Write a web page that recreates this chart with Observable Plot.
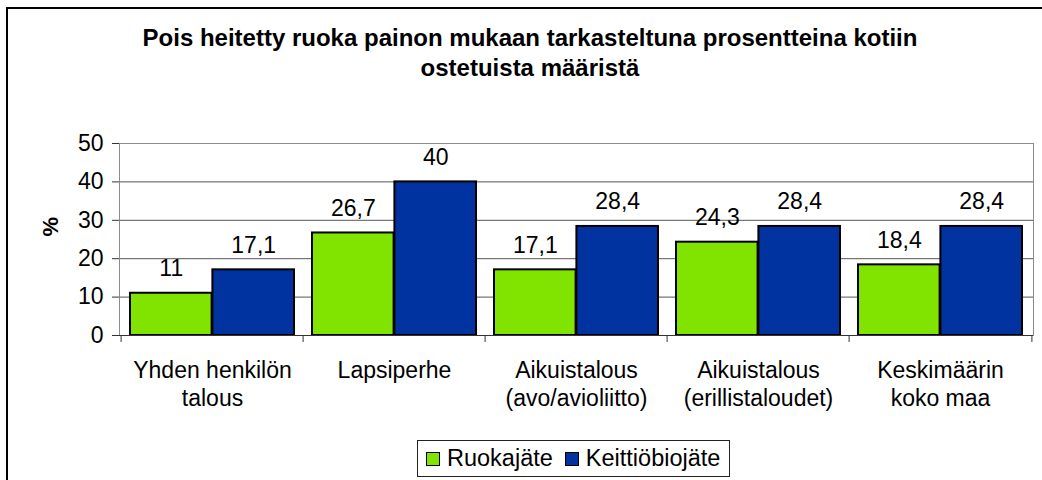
<!DOCTYPE html>
<html>
<head>
<meta charset="utf-8">
<script src="https://cdn.jsdelivr.net/npm/d3@7"></script>
<script src="https://cdn.jsdelivr.net/npm/@observablehq/plot@0.6"></script>
<style>
  html, body { margin: 0; padding: 0; background: #fff; }
  #wrap { position: relative; width: 1042px; height: 480px; overflow: hidden; font-family: "Liberation Sans", Arial, sans-serif; color: #000; }
  #frame { position: absolute; left: 6px; top: 7px; width: 1200px; height: 600px; border-left: 2px solid #000; border-top: 2px solid #000; pointer-events: none; }
  #title { height: 125px; box-sizing: border-box; padding-top: 23px; padding-left: 18px; text-align: center; font-weight: bold; font-size: 24px; line-height: 30px; }
  #chart svg { display: block; }
  #legend { position: absolute; left: 417px; top: 440px; height: 35px; padding: 0 9px 0 8px; border: 1px solid #222; display: flex; align-items: center; font-size: 23.5px; white-space: nowrap; }
  .item { display: flex; align-items: center; margin-right: 12px; }
  .item:last-child { margin-right: 0; }
  .sw { width: 12px; height: 12px; border: 1.5px solid #000; margin-right: 7px; }
</style>
</head>
<body>
<div id="wrap">
  <div id="title">Pois heitetty ruoka painon mukaan tarkasteltuna prosentteina kotiin<br>ostetuista määristä</div>
  <div id="chart"></div>
  <div id="legend"></div>
  <div id="frame"></div>
</div>
<script>
const categories = [
  "Yhden henkilön\ntalous",
  "Lapsiperhe",
  "Aikuistalous\n(avo/avioliitto)",
  "Aikuistalous\n(erillistaloudet)",
  "Keskimäärin\nkoko maa"
];
const seriesNames = ["Ruokajäte", "Keittiöbiojäte"];
const ruokajate = [11, 26.7, 17.1, 24.3, 18.4];
const keittiobiojate = [17.1, 40, 28.4, 28.4, 28.4];
const seriesColors = ["#80e400", "#0033a0"];
const yTicks = [0, 10, 20, 30, 40, 50];

const seriesValues = [ruokajate, keittiobiojate];
const data = [];
seriesNames.forEach((s, si) => categories.forEach((c, ci) => data.push({category: c, series: s, value: seriesValues[si][ci]})));

const fmt = v => String(v).replace(".", ",");
const half = 91.4;

const barMarks = seriesNames.map((s, si) => Plot.barY(data.filter(d => d.series === s), {
  x: "category", y: "value", fill: "series",
  stroke: "#000", strokeWidth: 2,
  insetLeft: si === 0 ? 9 : half, insetRight: si === 0 ? half : 9
}));
const labelMarks = seriesNames.map((s, si) => Plot.text(data.filter(d => d.series === s), {
  x: "category", y: "value", text: d => fmt(d.value),
  dx: si === 0 ? -41.2 : 41.2, dy: -17, lineAnchor: "bottom", fontSize: 23, fill: "#000"
}));

const plot = Plot.plot({
  width: 1042,
  height: 310,
  marginTop: 18,
  marginBottom: 100,
  marginLeft: 119,
  marginRight: 9,
  style: {fontFamily: "'Liberation Sans', Arial, sans-serif", fontSize: "23px", color: "#000", background: "transparent", overflow: "visible"},
  x: {domain: categories, padding: 0, axis: null},
  y: {domain: [0, 50], axis: null},
  color: {domain: seriesNames, range: seriesColors},
  marks: [
    Plot.gridY({ticks: yTicks.slice(1, -1), stroke: "#555", strokeOpacity: 1}),
    Plot.frame({stroke: "#8c8c8c"}),
    ...barMarks,
    Plot.ruleY([0], {stroke: "#333"}),
    Plot.axisY({ticks: yTicks, tickSize: 7, tickPadding: 9, fontSize: 23, label: null, stroke: "#333", fill: "#000"}),
    Plot.axisX({ticks: categories, tickSize: 7, tickFormat: () => "", dx: -half, stroke: "#333", label: null}),
    Plot.axisX({ticks: categories.slice(-1), tickSize: 7, tickFormat: () => "", dx: half, stroke: "#333", label: null}),
    Plot.axisX({ticks: categories, tickSize: 0, tickPadding: 23, fontSize: 23, lineHeight: 1.22, label: null, fill: "#000"}),
    ...labelMarks,
    Plot.text(["%"], {frameAnchor: "left", dx: -69, dy: -3, rotate: -90, text: d => d, fontWeight: "bold", fontSize: 22, fill: "#000"})
  ]
});
document.getElementById("chart").appendChild(plot);

const legend = document.getElementById("legend");
seriesNames.forEach((s, i) => {
  const item = document.createElement("div");
  item.className = "item";
  const sw = document.createElement("span");
  sw.className = "sw";
  sw.style.background = seriesColors[i];
  const t = document.createElement("span");
  t.textContent = s;
  item.appendChild(sw);
  item.appendChild(t);
  legend.appendChild(item);
});
</script>
</body>
</html>
